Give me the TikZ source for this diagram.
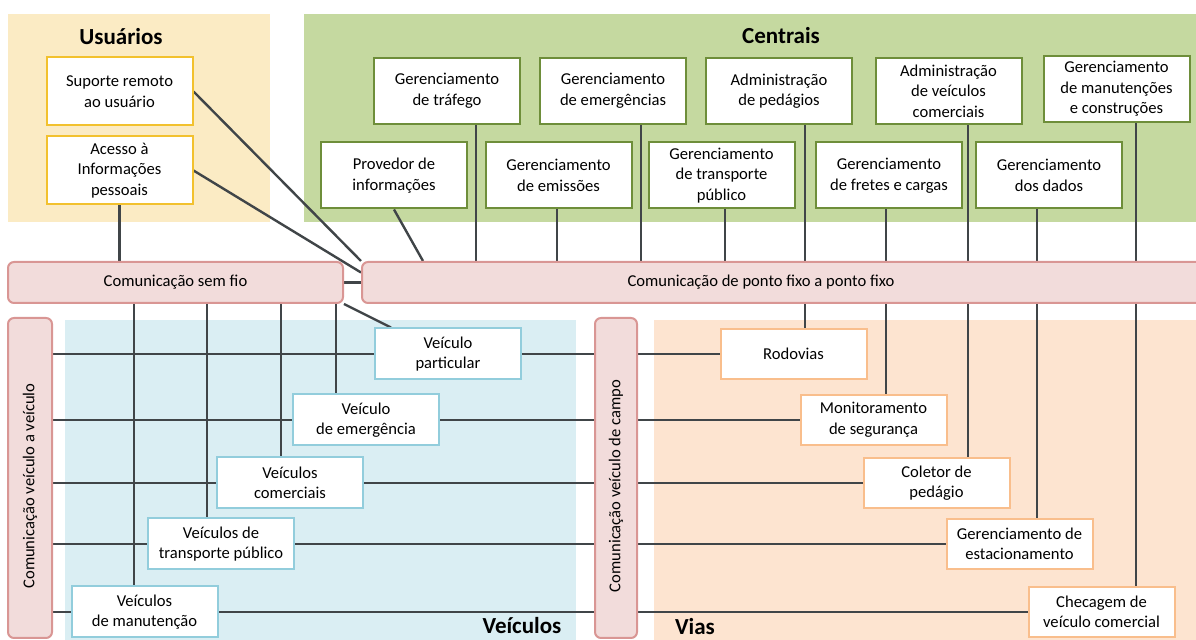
\documentclass[tikz,border=0pt]{standalone}
\usepackage{fontspec}
\setmainfont{Carlito}

\definecolor{usrbg}{HTML}{FBEBC4}
\definecolor{usrline}{HTML}{F2C12E}
\definecolor{cenbg}{HTML}{C5D9A0}
\definecolor{cenline}{HTML}{6E8E3A}
\definecolor{veibg}{HTML}{DAEEF3}
\definecolor{veiline}{HTML}{92CDDC}
\definecolor{viabg}{HTML}{FDE4D0}
\definecolor{vialine}{HTML}{F9BE8C}
\definecolor{combg}{HTML}{F2DCDB}
\definecolor{comline}{HTML}{D99694}
\definecolor{wiregray}{HTML}{404548}

\pgfdeclarelayer{back}
\pgfdeclarelayer{wires}
\pgfsetlayers{back,wires,main}

\begin{document}
\begin{tikzpicture}[x=0.5pt, y=-0.5pt, font=\fontsize{8.3}{10.3}\selectfont,
    box/.style={draw, fill=white, line width=1pt, align=center, inner sep=1pt, minimum width=73pt},
    usr/.style={box, draw=usrline, minimum height=34pt},
    cen/.style={box, draw=cenline, minimum height=33pt},
    vei/.style={box, draw=veiline, minimum height=25.5pt},
    via/.style={box, draw=vialine, minimum height=25pt},
    com/.style={draw=comline, fill=combg, line width=1pt, rounded corners=3pt, inner sep=1pt},
    title/.style={font=\fontsize{11.5}{14}\selectfont\bfseries},
    link/.style={draw=wiregray, line width=1.2pt}]
    \useasboundingbox (0,0) rectangle (1196,640);

    \begin{pgfonlayer}{back}
        \fill[usrbg] (8,14) rectangle (270,222);
        \fill[cenbg] (304,14) rectangle (1196,222);
        \fill[veibg] (65,320) rectangle (576,640);
        \fill[viabg] (654,320) rectangle (1196,640);
    \end{pgfonlayer}

    \node[title] at (121,37) {Usuários};
    \node[title] at (781,36) {Centrais};
    \node[title] at (522,626) {Veículos};
    \node[title] at (695,627) {Vias};

    \node[usr] (suporte) at (119.5,91.5) {Suporte remoto\\ao usuário};
    \node[usr] (acesso) at (119.5,170.5) {Acesso à\\Informações\\pessoais};

    \node[cen] (trafego) at (447,91) {Gerenciamento\\de tráfego};
    \node[cen] (emergencias) at (613,91) {Gerenciamento\\de emergências};
    \node[cen] (pedagios) at (779,91) {Administração\\de pedágios};
    \node[cen] (veiccom) at (948.5,91) {Administração\\de veículos\\comerciais};
    \node[cen] (manutencoes) at (1116.5,89) {Gerenciamento\\de manutenções\\e construções};

    \node[cen] (provedor) at (394,175.5) {Provedor de\\informações};
    \node[cen] (emissoes) at (558.5,175.5) {Gerenciamento\\de emissões};
    \node[cen] (transporte) at (721.5,175.5) {Gerenciamento\\de transporte\\público};
    \node[cen] (fretes) at (889,175.5) {Gerenciamento\\de fretes e cargas};
    \node[cen] (dados) at (1049,175.5) {Gerenciamento\\dos dados};

    \node[com, minimum width=167.5pt, minimum height=20.5pt] (semfio) at (175.5,282.5) {Comunicação sem fio};
    \node[com, minimum width=429pt, minimum height=20.5pt,
        label={[xshift=-15pt]center:Comunicação de ponto fixo a ponto fixo}] (fixo) at (791,282.5) {};

    \node[com, minimum width=22pt, minimum height=160pt] (v2v) at (30,478) {\rotatebox{90}{Comunicação veículo a veículo\hspace*{8pt}}};
    \node[com, minimum width=21pt, minimum height=160pt] (campo) at (616,478) {\rotatebox{90}{Comunicação veículo de campo\hspace*{8pt}}};

    \node[vei] (particular) at (448,354) {Veículo\\particular};
    \node[vei] (emergencia) at (366,420) {Veículo\\de emergência};
    \node[vei] (comerciais) at (290,483) {Veículos\\comerciais};
    \node[vei] (transpublico) at (221,544) {Veículos de\\transporte público};
    \node[vei] (manutencao) at (144.5,612) {Veículos\\de manutenção};

    \node[via] (rodovias) at (793.5,354) {Rodovias};
    \node[via] (seguranca) at (873.5,420) {Monitoramento\\de segurança};
    \node[via] (coletor) at (936.5,483) {Coletor de\\pedágio};
    \node[via] (estacionamento) at (1019.5,544) {Gerenciamento de\\estacionamento};
    \node[via] (checagem) at (1101.5,612) {Checagem de\\veículo comercial};

    \begin{pgfonlayer}{wires}
        \draw[link] (suporte.east) -- (fixo.north west);
        \draw[link] (acesso.east) -- ([yshift=5pt]fixo.west);
        \draw[link] (acesso.south) -- (semfio.north -| acesso.south);
        \draw[link] (semfio.east) -- (fixo.west);

        \draw[link] (provedor.south) -- (fixo.north -| 423,0);
        \draw[link] (trafego.south -| 476,0) -- (fixo.north -| 476,0);
        \draw[link] (emissoes.south -| 557,0) -- (fixo.north -| 557,0);
        \draw[link] (emergencias.south -| 641,0) -- (fixo.north -| 641,0);
        \draw[link] (transporte.south -| 725,0) -- (fixo.north -| 725,0);

        \draw[link] (pedagios.south -| 805,0) -- (rodovias.north -| 805,0);
        \draw[link] (fretes.south -| 886,0) -- (seguranca.north -| 886,0);
        \draw[link] (veiccom.south -| 968,0) -- (coletor.north -| 968,0);
        \draw[link] (dados.south -| 1037,0) -- (estacionamento.north -| 1037,0);
        \draw[link] (manutencoes.south -| 1136,0) -- (checagem.north -| 1136,0);

        \draw[link] (semfio.south -| 134,0) -- (manutencao.north -| 134,0);
        \draw[link] (semfio.south -| 207,0) -- (transpublico.north -| 207,0);
        \draw[link] (semfio.south -| 281,0) -- (comerciais.north -| 281,0);
        \draw[link] (semfio.south -| 336,0) -- (emergencia.north -| 336,0);
        \draw[link] (semfio.south east) -- ([xshift=8.5pt]particular.north west);

        \draw[link] (v2v.east |- particular) -- (campo.west |- particular);
        \draw[link] (v2v.east |- emergencia) -- (campo.west |- emergencia);
        \draw[link] (v2v.east |- comerciais) -- (campo.west |- comerciais);
        \draw[link] (v2v.east |- transpublico) -- (campo.west |- transpublico);
        \draw[link] (v2v.east |- manutencao) -- (campo.west |- manutencao);

        \draw[link] (campo.east |- rodovias) -- (rodovias.west);
        \draw[link] (campo.east |- seguranca) -- (seguranca.west);
        \draw[link] (campo.east |- coletor) -- (coletor.west);
        \draw[link] (campo.east |- estacionamento) -- (estacionamento.west);
        \draw[link] (campo.east |- checagem) -- (checagem.west);
    \end{pgfonlayer}
\end{tikzpicture}
\end{document}
